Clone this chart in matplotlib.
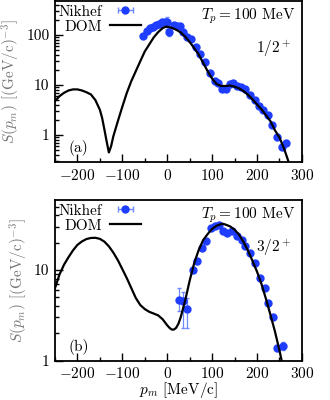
import numpy as np
import matplotlib
matplotlib.use('Agg')
import matplotlib.pyplot as plt
from matplotlib.ticker import FixedLocator, NullFormatter, MultipleLocator

plt.rcParams['font.family'] = 'cmr10'
plt.rcParams['mathtext.fontset'] = 'cm'
plt.rcParams['axes.formatter.use_mathtext'] = True
plt.rcParams['font.size'] = 11

FS = 11

# (a) 1/2+ : Nikhef data
pa_x = [-55, -45, -38, -31, -24, -18, -12, -5, -1, 4, 15, 22, 28, 36, 45, 54, 64, 74, 84, 95,
        106, 114, 122, 130, 140, 146, 155, 164, 173, 184, 195, 205, 214, 225, 233, 244, 255, 265]
pa_y = [95, 122, 136, 147, 158, 170, 180, 185, 180, 117, 158, 155, 151, 117, 90, 82, 58, 42, 29, 17.6,
        12, 11, 8.2, 8.5, 10.3, 10.8, 9.8, 9.0, 8.2, 6.3, 5.0, 3.8, 3.2, 2.5, 1.58, 0.93, 0.58, 0.68]
pa_err = [3, 4, 4, 5, 5, 5, 6, 6, 45, 23, 5, 5, 5, 4, 3, 3, 2, 1.5, 1, 0.6,
          0.4, 0.4, 0.3, 0.3, 0.4, 0.4, 0.3, 0.3, 0.3, 0.2, 0.2, 0.15, 0.12, 0.1, 0.06, 0.04, 0.03, 0.03]

# (a) DOM curve
dom_a_x = [-250, -240, -230, -220, -210, -200, -190, -180, -170, -160, -150, -145, -140, -135, -130,
           -125, -120, -110, -100, -90, -80, -70, -60, -50, -40, -30, -20, -10, -5, 0, 10, 20, 30,
           40, 50, 60, 70, 80, 90, 100, 110, 120, 130, 140, 150, 160, 170, 180, 190, 200, 210, 220,
           230, 240, 250, 260, 270]
dom_a_y = [4.8, 6.0, 7.0, 7.8, 8.2, 8.2, 7.8, 7.2, 6.5, 5.0, 3.2, 2.2, 1.3, 0.75, 0.45,
           0.6, 0.95, 1.9, 3.7, 7.0, 12, 19, 30, 47, 65, 90, 115, 138, 145, 147, 140, 128, 113,
           93, 73, 55, 41, 28, 19, 13.5, 10.5, 9.6, 9.6, 9.8, 9.3, 8.6, 7.6, 6.4, 5.2, 4.1, 3.3, 2.5,
           1.9, 1.25, 0.9, 0.55, 0.3]

# (b) 3/2+ : Nikhef data
pb_x = [27, 36, 45, 57, 66, 77, 86, 97, 106, 116, 125, 134, 144, 155, 166, 173, 184, 195, 207, 218,
        225, 236, 245, 257]
pb_y = [4.7, 4.5, 3.66, 10.1, 12.4, 17.4, 20.7, 29, 30.2, 31.5, 26.6, 25.5, 26.6, 23.4, 21.5, 18.2,
        15.4, 11.9, 8.2, 6.3, 4.3, 3.0, 1.39, 1.45]
pb_lo = [1.2, 2.2, 1.4, 0.8, 0.7, 0.8, 0.8, 1.0, 1.0, 1.0, 1.5, 1.0, 1.0, 0.8, 0.7, 0.6,
         0.5, 0.4, 0.3, 0.25, 0.2, 0.15, 0.1, 0.15]
pb_hi = [1.6, 1.2, 1.2, 0.8, 0.7, 0.8, 0.8, 1.0, 1.0, 1.0, 1.5, 1.0, 1.0, 0.8, 0.7, 0.6,
         0.5, 0.4, 0.3, 0.25, 0.2, 0.15, 0.1, 0.15]

# (b) DOM curve
dom_b_x = [-250, -240, -230, -220, -210, -200, -190, -180, -170, -160, -150, -140, -130, -120, -110,
           -100, -90, -80, -70, -60, -50, -40, -30, -20, -10, 0, 5, 10, 15, 20, 25, 30, 40, 50, 60,
           70, 80, 90, 100, 110, 120, 125, 130, 140, 150, 160, 170, 180, 190, 200, 210, 220, 230, 240,
           250, 255]
dom_b_y = [6.3, 8.9, 11.4, 13.8, 16.4, 18.9, 20.6, 21.9, 22.5, 22.6, 22.0, 20.5, 18.2, 15.5, 12.8,
           10.2, 8.1, 6.3, 4.9, 4.1, 3.7, 3.45, 3.3, 3.15, 2.85, 2.45, 2.3, 2.2, 2.2, 2.3, 2.55, 3.0,
           4.6, 7.6, 11.8, 16.5, 21.3, 24.8, 28.3, 30.7, 32.0, 32.2, 31.6, 30.2, 27.8, 24.5, 20.3,
           16.3, 12.6, 9.6, 7.0, 4.8, 3.2, 2.1, 1.3, 1.0]

fig = plt.figure(figsize=(3.3, 4.0), dpi=100)
ax_a = fig.add_axes([0.1667, 0.595, 0.748, 0.4025])
ax_b = fig.add_axes([0.1667, 0.0985, 0.748, 0.4015])

blue = '#1f3dff'
eblue = '#7088ff'

def style(ax, ylo, yhi, majors, labels, panel, state):
    ax.set_yscale('log')
    ax.set_xlim(-250, 300)
    ax.set_ylim(ylo, yhi)
    ax.xaxis.set_major_locator(MultipleLocator(100))
    ax.xaxis.set_minor_locator(MultipleLocator(50))
    ax.yaxis.set_major_locator(FixedLocator(majors))
    ax.set_yticklabels(labels)
    ax.yaxis.set_minor_formatter(NullFormatter())
    ax.tick_params(which='both', direction='in', top=False, right=False, width=1.0)
    ax.tick_params(which='major', length=5.5, labelsize=FS, pad=4)
    ax.tick_params(which='minor', length=3)
    for s in ax.spines.values():
        s.set_linewidth(1.3)
    ax.set_ylabel(r'$S(p_m)$ [(GeV/c)$^{-3}$]', color='#777777', fontsize=FS, labelpad=3)
    ax.text(0.975, 0.965, r'$T_p = 100$ MeV', transform=ax.transAxes, ha='right', va='top', fontsize=FS)
    ax.text(0.955, 0.70, state, transform=ax.transAxes, ha='right', va='center', fontsize=FS)
    ax.text(0.055, 0.035, panel, transform=ax.transAxes, ha='left', va='bottom', fontsize=FS)
    # legend proxy with horizontal error bar only
    ax.errorbar([np.nan], [np.nan], xerr=[1], fmt='o', color=blue, ecolor=eblue, ms=5,
                capsize=2, elinewidth=1, label='Nikhef')

# panel (a)
ax_a.errorbar(pa_x, pa_y, yerr=pa_err, fmt='o', color=blue, ecolor=eblue, ms=5,
              capsize=1.5, elinewidth=0.9, zorder=2)
ax_a.plot(dom_a_x, dom_a_y, color='black', lw=1.6, label='DOM', zorder=3)
style(ax_a, 0.29, 480, [1, 10, 100], ['1', '10', '100'], '(a)', r'$1/2^+$')

# panel (b)
ax_b.errorbar(pb_x, pb_y, yerr=[pb_lo, pb_hi], fmt='o', color=blue, ecolor=eblue, ms=5,
              capsize=1.5, elinewidth=0.9, zorder=2)
ax_b.plot(dom_b_x, dom_b_y, color='black', lw=1.6, label='DOM', zorder=3)
style(ax_b, 1, 59, [1, 10], ['1', '10'], '(b)', r'$3/2^+$')
ax_b.set_xlabel(r'$p_m$ [MeV/c]', fontsize=FS, labelpad=-1)

for ax in (ax_a, ax_b):
    h, l = ax.get_legend_handles_labels()
    order = [l.index('Nikhef'), l.index('DOM')]
    ax.legend([h[i] for i in order], [l[i] for i in order], loc='upper left', markerfirst=False,
              frameon=False, fontsize=FS, handlelength=2.0, borderaxespad=0.15,
              handletextpad=0.5, labelspacing=0.1, borderpad=0.1)

fig.savefig('out.png', dpi=100)
